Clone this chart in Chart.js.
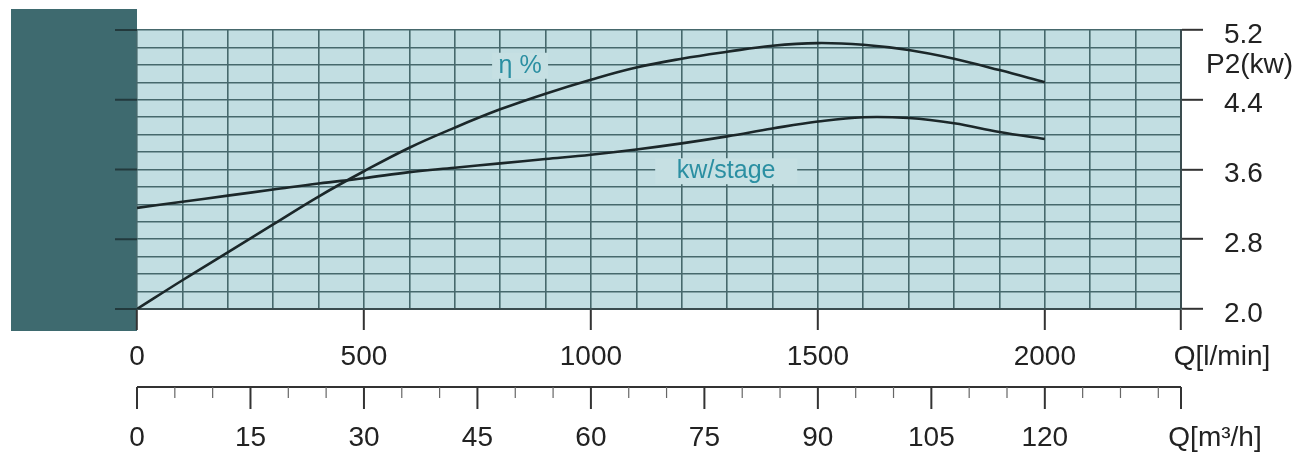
<!DOCTYPE html>
<html>
<head>
<meta charset="utf-8">
<script src="https://cdn.jsdelivr.net/npm/chart.js"></script>
<style>
  body { margin: 0; background: #fff; }
  canvas { display: block; }
</style>
</head>
<body>
<canvas id="pumpChart" width="1297" height="456"></canvas>
<script>
// Flow points (l/min) and the two curves
const flowLmin = [0, 100, 200, 300, 400, 500, 600, 700, 800, 900, 1000,
                  1100, 1200, 1300, 1400, 1500, 1600, 1700, 1800, 1900, 2000];
const etaCurve = [2.00, 2.33, 2.65, 2.97, 3.29, 3.58, 3.85, 4.08, 4.29, 4.47, 4.63,
                  4.77, 4.87, 4.95, 5.02, 5.05, 5.03, 4.97, 4.87, 4.74, 4.60];
const kwCurve = [3.16, 3.23, 3.30, 3.37, 3.44, 3.50, 3.57, 3.62, 3.67, 3.72, 3.77,
                 3.83, 3.90, 3.98, 4.07, 4.15, 4.20, 4.19, 4.13, 4.03, 3.95];

// Axis labels
const yTickLabels = [2.0, 2.8, 3.6, 4.4, 5.2];
const xTickLabels = [0, 500, 1000, 1500, 2000];
const m3hMajor = [0, 15, 30, 45, 60, 75, 90, 105, 120];
const m3hMinor = [5, 10, 20, 25, 35, 40, 50, 55, 65, 70, 80, 85, 95, 100, 110, 115, 125, 130, 135];
const m3hEnd = 138;

const FONT = '"Liberation Sans", Arial, sans-serif';
const GRID = '#46686c';
const PLOT_BG = '#c2dee2';
const LABEL_TEAL = '#2b8fa2';

function isLabeled(list, v) {
    return list.some(t => Math.abs(t - v) < 1e-6);
}

const decorPlugin = {
    id: 'decor',
    beforeDraw(chart) {
        const ctx = chart.ctx;
        const a = chart.chartArea;
        ctx.save();
        ctx.fillStyle = '#fff';
        ctx.fillRect(0, 0, chart.width, chart.height);
        // dark block on the left
        ctx.fillStyle = '#3e6a6f';
        ctx.fillRect(11, 9, a.left - 11, a.bottom + 22 - 9);
        // plot background
        ctx.fillStyle = PLOT_BG;
        ctx.fillRect(a.left, a.top, a.right - a.left, a.bottom - a.top);
        ctx.restore();
    },
    beforeDatasetsDraw(chart) {
        const ctx = chart.ctx;
        const x = chart.scales.x, y = chart.scales.y;
        ctx.save();
        ctx.font = '25px ' + FONT;
        ctx.textAlign = 'center';
        ctx.textBaseline = 'middle';
        const labels = [['η %', 844, 4.79, 56], ['kw/stage', 1298, 3.58, 142]];
        labels.forEach(([txt, q, v, w]) => {
            const px = x.getPixelForValue(q), py = y.getPixelForValue(v);
            ctx.fillStyle = '#c6e0e3';
            ctx.fillRect(px - w / 2, py - 13, w, 26);
            ctx.fillStyle = LABEL_TEAL;
            ctx.fillText(txt, px, py);
        });
        ctx.restore();
    },
    afterDraw(chart) {
        const ctx = chart.ctx;
        const a = chart.chartArea;
        const x = chart.scales.x, y = chart.scales.y;
        ctx.save();
        // left tick marks over the dark block
        ctx.strokeStyle = '#22393c';
        ctx.lineWidth = 2;
        yTickLabels.forEach(v => {
            const py = y.getPixelForValue(v);
            ctx.beginPath();
            ctx.moveTo(a.left - 22, py);
            ctx.lineTo(a.left, py);
            ctx.stroke();
        });

        ctx.fillStyle = '#222';
        ctx.font = '28px ' + FONT;
        ctx.textBaseline = 'middle';
        ctx.textAlign = 'left';
        ctx.fillText('P2(kw)', a.right + 25, y.getPixelForValue(4.8));
        ctx.textAlign = 'center';
        ctx.fillText('Q[l/min]', a.right + 41, a.bottom + 48);

        // second flow axis in m³/h
        const toL = m => m * 1000 / 60;
        const ay = a.bottom + 78;
        ctx.strokeStyle = '#333';
        ctx.lineWidth = 2;
        ctx.beginPath();
        ctx.moveTo(x.getPixelForValue(0), ay);
        ctx.lineTo(x.getPixelForValue(toL(m3hEnd)), ay);
        ctx.stroke();
        const tick = (m, len) => {
            const px = x.getPixelForValue(toL(m));
            ctx.beginPath();
            ctx.moveTo(px, ay);
            ctx.lineTo(px, ay + len);
            ctx.stroke();
        };
        m3hMajor.forEach(m => tick(m, 22));
        tick(m3hEnd, 22);
        ctx.lineWidth = 1.2;
        ctx.strokeStyle = '#666';
        m3hMinor.forEach(m => tick(m, 11));

        m3hMajor.forEach(m => {
            ctx.fillText(String(m), x.getPixelForValue(toL(m)), ay + 51);
        });
        ctx.fillText('Q[m³/h]', a.right + 34, ay + 51);
        ctx.restore();
    }
};

const ctx = document.getElementById('pumpChart').getContext('2d');
const pumpChart = new Chart(ctx, {
    type: 'line',
    data: {
        labels: flowLmin,
        datasets: [{
            label: 'η %',
            data: flowLmin.map((q, i) => ({ x: q, y: etaCurve[i] })),
            borderColor: '#1b2729',
            borderWidth: 2.6,
            pointRadius: 0,
            tension: 0.4,
            fill: false
        }, {
            label: 'kw/stage',
            data: flowLmin.map((q, i) => ({ x: q, y: kwCurve[i] })),
            borderColor: '#1b2729',
            borderWidth: 2.6,
            pointRadius: 0,
            tension: 0.4,
            fill: false
        }]
    },
    options: {
        responsive: false,
        animation: false,
        devicePixelRatio: 1,
        layout: { padding: { left: 137, top: 30, right: 0, bottom: 0 } },
        plugins: { legend: { display: false }, tooltip: { enabled: false } },
        scales: {
            x: {
                type: 'linear',
                min: 0,
                max: 2300,
                afterFit(scale) {
                    scale.height = 147;
                    scale.paddingLeft = 0;
                    scale.paddingRight = 0;
                },
                ticks: {
                    stepSize: 100,
                    autoSkip: false,
                    maxRotation: 0,
                    padding: 10,
                    color: '#222',
                    font: { family: FONT, size: 28 },
                    callback: v => isLabeled(xTickLabels, v) ? String(v) : ''
                },
                grid: {
                    color: GRID,
                    lineWidth: 1.6,
                    tickLength: 21,
                    tickWidth: 2,
                    tickColor: c => (isLabeled(xTickLabels, c.tick.value) || c.tick.value === 2300) ? '#333' : 'rgba(0,0,0,0)'
                },
                border: { color: '#3a4c4f', width: 2 }
            },
            y: {
                position: 'right',
                min: 2,
                max: 5.2,
                afterFit(scale) {
                    scale.width = 116;
                    scale.paddingTop = 0;
                    scale.paddingBottom = 0;
                },
                ticks: {
                    stepSize: 0.2,
                    autoSkip: false,
                    padding: 21,
                    labelOffset: 5,
                    color: '#222',
                    font: { family: FONT, size: 28 },
                    callback: v => isLabeled(yTickLabels, v) ? Number(v).toFixed(1) : ''
                },
                grid: {
                    color: GRID,
                    lineWidth: 1.6,
                    tickLength: 22,
                    tickWidth: 2,
                    tickColor: c => isLabeled(yTickLabels, c.tick.value) ? '#333' : 'rgba(0,0,0,0)'
                },
                border: { color: '#3a4c4f', width: 2 }
            }
        }
    },
    plugins: [decorPlugin]
});
</script>
</body>
</html>
